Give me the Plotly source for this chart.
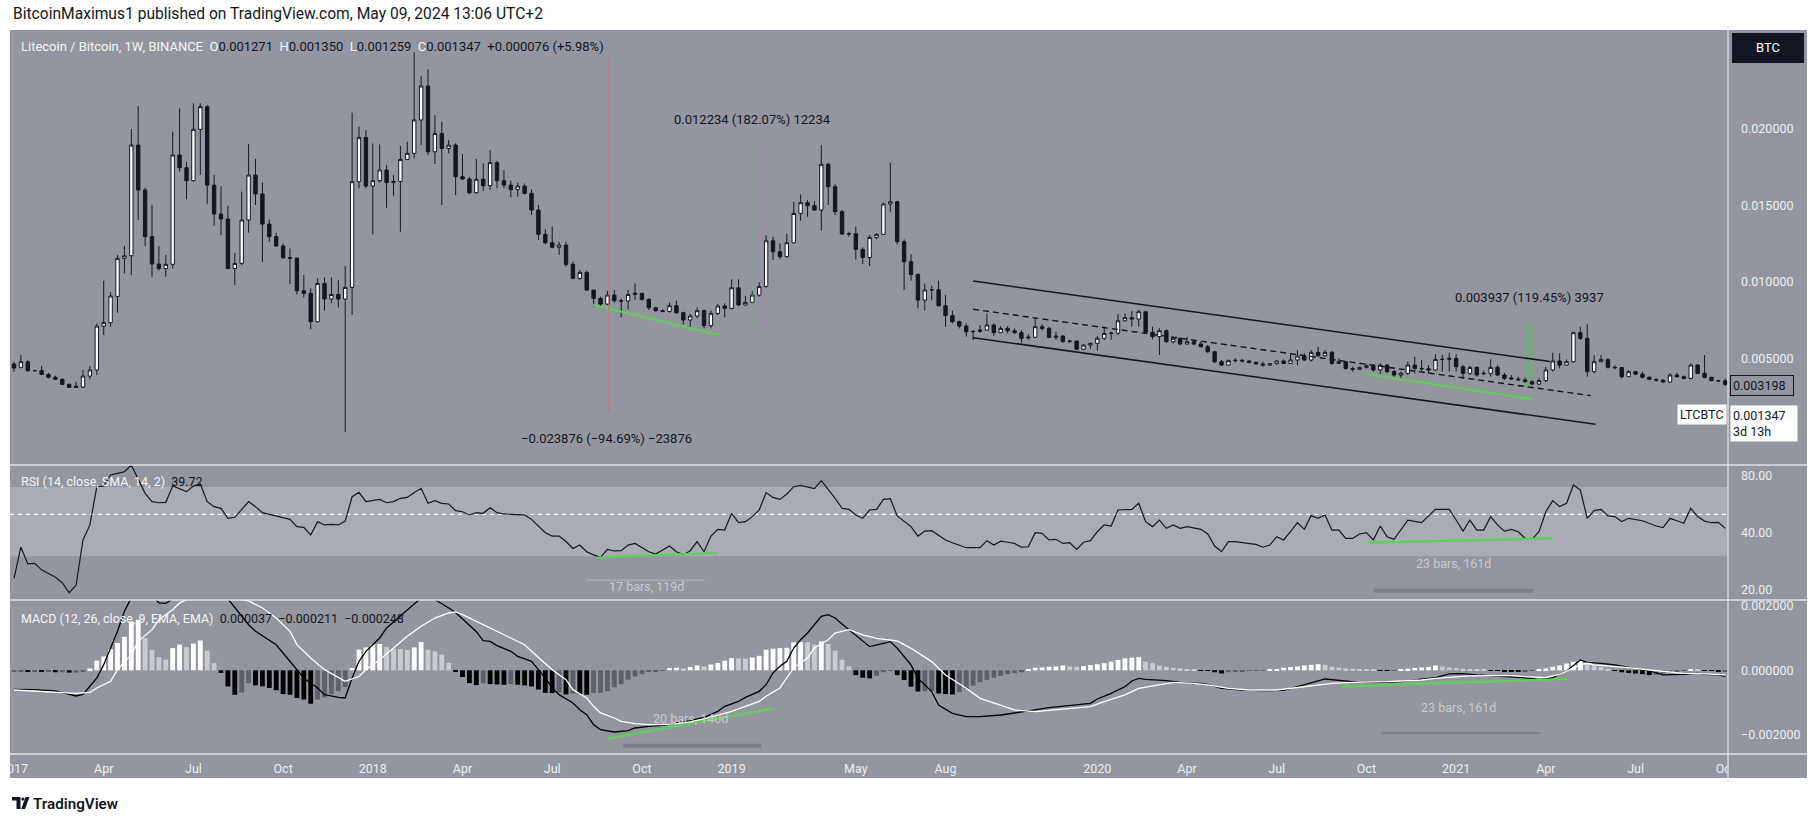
import math
import pandas as pd
import plotly.graph_objects as go

W, H = 1818, 824
def px(x): return x / W
def py(y): return 1 - y / H

# ---------------- data ----------------
first_week = "2017-01-02"
dates = pd.date_range(first_week, periods=249, freq="7D")

open_ = [
 0.00463,0.00441,0.00478,0.00419,0.00420,0.00395,0.00376,0.00363,0.00330,0.00318,
 0.00312,0.00384,0.00424,0.00711,0.00733,0.00905,0.01154,0.01171,0.01895,0.01601,
 0.01296,0.01117,0.01088,0.01115,0.01830,0.01747,0.01662,0.01998,0.02146,0.01633,
 0.01444,0.01411,0.01088,0.01121,0.01405,0.01699,0.01575,0.01378,0.01296,0.01235,
 0.01158,0.01156,0.00942,0.00925,0.00740,0.00990,0.00888,0.00918,0.00888,0.00964,
 0.01655,0.01945,0.01627,0.01662,0.01732,0.01649,0.01657,0.01801,0.01841,0.02059,
 0.02281,0.01851,0.01971,0.01873,0.01895,0.01688,0.01673,0.01583,0.01671,0.01629,
 0.01780,0.01662,0.01633,0.01605,0.01627,0.01579,0.01470,0.01311,0.01256,0.01226,
 0.01241,0.01115,0.01023,0.01062,0.00947,0.00892,0.00855,0.00914,0.00877,0.00875,
 0.00918,0.00925,0.00886,0.00831,0.00812,0.00807,0.00844,0.00799,0.00751,0.00777,
 0.00812,0.00714,0.00794,0.00842,0.00827,0.00962,0.00849,0.00866,0.00914,0.00969,
 0.01269,0.01197,0.01165,0.01256,0.01448,0.01518,0.01498,0.01470,0.01769,0.01623,
 0.01459,0.01313,0.01315,0.01213,0.01160,0.01291,0.01311,0.01509,0.01524,0.01263,
 0.01132,0.01049,0.00881,0.00947,0.00949,0.00844,0.00779,0.00740,0.00711,0.00674,
 0.00676,0.00685,0.00718,0.00668,0.00696,0.00681,0.00668,0.00640,0.00638,0.00707,
 0.00696,0.00637,0.00646,0.00609,0.00613,0.00559,0.00587,0.00598,0.00631,0.00663,
 0.00665,0.00746,0.00766,0.00757,0.00805,0.00670,0.00642,0.00681,0.00609,0.00631,
 0.00594,0.00609,0.00594,0.00576,0.00543,0.00478,0.00456,0.00485,0.00487,0.00483,
 0.00474,0.00463,0.00456,0.00465,0.00483,0.00467,0.00489,0.00515,0.00489,0.00539,
 0.00517,0.00539,0.00467,0.00478,0.00434,0.00428,0.00441,0.00452,0.00424,0.00456,
 0.00413,0.00391,0.00402,0.00456,0.00434,0.00432,0.00424,0.00493,0.00493,0.00500,
 0.00445,0.00402,0.00441,0.00399,0.00402,0.00441,0.00391,0.00372,0.00365,0.00360,
 0.00347,0.00332,0.00354,0.00424,0.00483,0.00456,0.00478,0.00668,0.00631,0.00413,
 0.00478,0.00493,0.00441,0.00439,0.00380,0.00413,0.00397,0.00376,0.00363,0.00358,
 0.00345,0.00391,0.00380,0.00369,0.00456,0.00402,0.00376,0.00354,0.00353]

high = [
 0.00478,0.00522,0.00489,0.00425,0.00450,0.00406,0.00386,0.00368,0.00336,0.00347,
 0.00424,0.00450,0.00729,0.01008,0.00932,0.01176,0.01235,0.02000,0.02150,0.01616,
 0.01503,0.01235,0.01176,0.01982,0.02135,0.01786,0.02168,0.02168,0.02157,0.01699,
 0.01627,0.01498,0.01191,0.01590,0.01902,0.01804,0.01649,0.01409,0.01322,0.01252,
 0.01219,0.01160,0.01045,0.00958,0.01023,0.01030,0.01030,0.01012,0.01104,0.02107,
 0.02015,0.01993,0.01906,0.01899,0.01764,0.01699,0.01889,0.01917,0.02503,0.02346,
 0.02390,0.02091,0.02048,0.01928,0.01906,0.01836,0.01688,0.01804,0.01775,0.01862,
 0.01792,0.01732,0.01662,0.01649,0.01644,0.01605,0.01503,0.01344,0.01361,0.01263,
 0.01263,0.01132,0.01078,0.01073,0.00947,0.00903,0.00942,0.00947,0.00892,0.00947,
 0.00990,0.00929,0.00892,0.00837,0.00819,0.00864,0.00877,0.00805,0.00790,0.00833,
 0.00820,0.00812,0.00855,0.00860,0.01017,0.01017,0.00908,0.00940,0.00997,0.01306,
 0.01296,0.01252,0.01317,0.01524,0.01572,0.01535,0.01529,0.01895,0.01780,0.01640,
 0.01470,0.01328,0.01361,0.01226,0.01306,0.01317,0.01520,0.01780,0.01531,0.01278,
 0.01182,0.01056,0.00990,0.00975,0.01008,0.00914,0.00812,0.00746,0.00729,0.00685,
 0.00718,0.00794,0.00729,0.00711,0.00711,0.00696,0.00685,0.00659,0.00766,0.00724,
 0.00707,0.00674,0.00650,0.00622,0.00615,0.00594,0.00602,0.00646,0.00707,0.00674,
 0.00790,0.00794,0.00809,0.00816,0.00810,0.00707,0.00696,0.00690,0.00637,0.00637,
 0.00642,0.00620,0.00609,0.00587,0.00550,0.00489,0.00493,0.00500,0.00496,0.00489,
 0.00478,0.00478,0.00469,0.00489,0.00493,0.00533,0.00554,0.00533,0.00554,0.00576,
 0.00554,0.00548,0.00500,0.00480,0.00445,0.00445,0.00463,0.00463,0.00467,0.00463,
 0.00424,0.00413,0.00478,0.00511,0.00489,0.00456,0.00528,0.00522,0.00537,0.00528,
 0.00456,0.00450,0.00445,0.00419,0.00493,0.00456,0.00406,0.00391,0.00380,0.00376,
 0.00358,0.00369,0.00445,0.00537,0.00533,0.00493,0.00674,0.00707,0.00724,0.00522,
 0.00522,0.00500,0.00456,0.00441,0.00424,0.00419,0.00413,0.00384,0.00369,0.00363,
 0.00402,0.00406,0.00388,0.00467,0.00463,0.00522,0.00380,0.00360,0.00369]

low = [
 0.00413,0.00434,0.00413,0.00414,0.00391,0.00369,0.00358,0.00325,0.00306,0.00306,
 0.00308,0.00363,0.00391,0.00652,0.00707,0.00799,0.01056,0.01045,0.01405,0.01235,
 0.01034,0.01073,0.01034,0.01088,0.01721,0.01540,0.01655,0.01699,0.01509,0.01368,
 0.01306,0.01082,0.00979,0.01110,0.01322,0.01503,0.01132,0.01263,0.01230,0.01150,
 0.00986,0.00918,0.00899,0.00690,0.00736,0.00812,0.00860,0.00833,0.00018,0.00783,
 0.01612,0.01612,0.01311,0.01649,0.01485,0.01564,0.01328,0.01797,0.01808,0.01895,
 0.01830,0.01771,0.01503,0.01841,0.01568,0.01666,0.01572,0.01579,0.01594,0.01601,
 0.01612,0.01612,0.01553,0.01557,0.01572,0.01437,0.01274,0.01245,0.01219,0.01176,
 0.01099,0.01017,0.01012,0.00940,0.00838,0.00842,0.00849,0.00864,0.00768,0.00820,
 0.00881,0.00877,0.00816,0.00805,0.00801,0.00799,0.00790,0.00722,0.00707,0.00761,
 0.00696,0.00696,0.00783,0.00768,0.00820,0.00842,0.00845,0.00860,0.00903,0.00962,
 0.01143,0.01147,0.01160,0.01252,0.01400,0.01426,0.01466,0.01335,0.01503,0.01437,
 0.01306,0.01296,0.01147,0.01117,0.01104,0.01278,0.01306,0.01459,0.01245,0.00947,
 0.01008,0.00827,0.00812,0.00881,0.00838,0.00707,0.00729,0.00696,0.00642,0.00620,
 0.00668,0.00681,0.00646,0.00665,0.00663,0.00659,0.00602,0.00620,0.00633,0.00681,
 0.00631,0.00620,0.00602,0.00602,0.00554,0.00554,0.00563,0.00550,0.00620,0.00620,
 0.00652,0.00740,0.00707,0.00707,0.00663,0.00624,0.00522,0.00602,0.00598,0.00585,
 0.00590,0.00587,0.00572,0.00537,0.00467,0.00450,0.00450,0.00472,0.00472,0.00467,
 0.00459,0.00445,0.00450,0.00459,0.00463,0.00463,0.00456,0.00485,0.00478,0.00511,
 0.00511,0.00456,0.00463,0.00424,0.00413,0.00424,0.00434,0.00413,0.00397,0.00402,
 0.00380,0.00369,0.00391,0.00402,0.00413,0.00402,0.00419,0.00413,0.00413,0.00413,
 0.00369,0.00391,0.00380,0.00391,0.00380,0.00384,0.00358,0.00358,0.00354,0.00341,
 0.00325,0.00325,0.00345,0.00413,0.00434,0.00454,0.00472,0.00620,0.00380,0.00402,
 0.00476,0.00434,0.00428,0.00369,0.00378,0.00391,0.00369,0.00358,0.00347,0.00341,
 0.00341,0.00376,0.00363,0.00363,0.00397,0.00369,0.00350,0.00348,0.00319]

close = [
 0.00437,0.00478,0.00419,0.00420,0.00395,0.00376,0.00363,0.00330,0.00310,0.00310,
 0.00384,0.00424,0.00711,0.00735,0.00908,0.01154,0.01171,0.01895,0.01601,0.01296,
 0.01117,0.01088,0.01115,0.01830,0.01747,0.01662,0.01998,0.02146,0.01633,0.01444,
 0.01411,0.01088,0.01121,0.01405,0.01699,0.01575,0.01378,0.01296,0.01235,0.01158,
 0.01156,0.00942,0.00925,0.00740,0.00990,0.00888,0.00918,0.00888,0.00964,0.01655,
 0.01945,0.01627,0.01662,0.01732,0.01649,0.01657,0.01801,0.01841,0.02059,0.02281,
 0.01851,0.01971,0.01873,0.01895,0.01688,0.01673,0.01583,0.01671,0.01629,0.01780,
 0.01662,0.01633,0.01605,0.01627,0.01579,0.01470,0.01311,0.01256,0.01226,0.01241,
 0.01115,0.01023,0.01062,0.00947,0.00892,0.00855,0.00914,0.00877,0.00875,0.00918,
 0.00925,0.00886,0.00831,0.00812,0.00807,0.00844,0.00799,0.00751,0.00777,0.00812,
 0.00714,0.00794,0.00842,0.00827,0.00962,0.00849,0.00866,0.00914,0.00969,0.01269,
 0.01197,0.01165,0.01256,0.01448,0.01518,0.01498,0.01470,0.01769,0.01623,0.01459,
 0.01313,0.01315,0.01213,0.01160,0.01291,0.01311,0.01509,0.01524,0.01263,0.01132,
 0.01049,0.00881,0.00947,0.00949,0.00844,0.00779,0.00740,0.00711,0.00674,0.00676,
 0.00685,0.00718,0.00668,0.00696,0.00681,0.00668,0.00631,0.00635,0.00707,0.00696,
 0.00637,0.00646,0.00609,0.00613,0.00559,0.00587,0.00598,0.00631,0.00663,0.00665,
 0.00746,0.00766,0.00757,0.00805,0.00670,0.00642,0.00681,0.00609,0.00631,0.00594,
 0.00609,0.00594,0.00576,0.00543,0.00478,0.00456,0.00485,0.00487,0.00483,0.00474,
 0.00463,0.00456,0.00465,0.00483,0.00467,0.00489,0.00515,0.00489,0.00539,0.00517,
 0.00539,0.00467,0.00478,0.00434,0.00428,0.00441,0.00452,0.00424,0.00456,0.00413,
 0.00391,0.00402,0.00456,0.00434,0.00432,0.00424,0.00493,0.00494,0.00500,0.00445,
 0.00402,0.00441,0.00391,0.00402,0.00441,0.00391,0.00369,0.00365,0.00360,0.00347,
 0.00332,0.00354,0.00424,0.00483,0.00456,0.00478,0.00668,0.00631,0.00413,0.00478,
 0.00493,0.00441,0.00439,0.00380,0.00413,0.00397,0.00376,0.00363,0.00358,0.00345,
 0.00391,0.00380,0.00369,0.00456,0.00402,0.00376,0.00354,0.00353,0.00330]

rsi_week = [0,1,2,3,4,6,7,8,9,10, 11,12,13,14,15,16,17,19,20,21, 22,23,25,26,27,28,29,30,31,32,
 34,35,36,38,39,40,41,42,43,44, 45,46,47,48,49,50,51,52,53,54, 55,56,57,58,59,60,61,62,63,64,
 65,66,67,68,69,70,71,72,74,75, 76,77,78,79,80,81,82,83,84,85, 86,87,88,89,90,91,92,93,95,96,
 97,98,99,100,101,102,103,104,105,106, 107,108,109,110,111,112,113,114,115,116,
 117,118,119,120,121,122,123,124,125,126, 127,128,129,130,131,132,133,134,135,136,
 137,138,140,141,142,143,144,145,146,147, 148,149,150,151,152,153,154,155,156,157,
 158,159,160,161,162,163,164,165,166,167, 168,169,170,172,173,174,175,176,177,178,
 180,181,182,183,184,185,186,187,188,189, 190,191,192,193,194,195,196,197,198,199,
 200,202,203,204,206,208,209,210,211,212, 213,214,215,216,217,218,219,220,221,222,
 223,224,225,226,227,228,229,230,231,232, 233,234,236,237,238,239,240,241,242,243,
 244,245,246,247,248]
rsi_value = [22.9,33.5,27.3,27.5,25.4,23.2,21.7,19.2,21.1,36.6, 44.0,70.2,70.8,81.0,82.6,84.3,91.5,64.7,58.5,57.7,
 58.0,70.8,66.1,70.8,72.5,58.5,55.0,53.9,47.7,48.3, 58.5,55.0,51.1,49.1,47.7,47.1,43.1,42.7,38.9,45.8,
 44.0,44.3,44.0,46.1,62.1,65.5,58.5,59.2,60.1,57.7, 58.5,60.9,61.6,65.3,68.8,57.3,59.2,57.3,56.8,52.4,
 51.7,49.7,51.1,50.7,54.3,51.1,50.3,50.1,49.7,47.1, 43.4,40.0,38.4,38.4,35.9,33.0,34.4,31.7,30.5,29.6,
 32.6,32.0,32.1,34.4,35.1,33.5,31.7,30.8,34.0,31.7, 30.5,32.1,35.9,31.7,38.4,41.7,41.3,50.7,45.2,45.8,
 48.7,52.8,65.3,61.6,60.1,64.2,70.2,71.4,70.2,68.5, 75.6,68.0,60.9,53.9,53.2,49.7,47.7,52.8,53.2,60.1,
 60.6,49.1,45.8,43.1,38.4,40.8,41.0,38.9,36.6,35.4, 34.4,33.3,33.3,36.3,34.4,36.1,35.6,35.1,33.5,33.7,
 40.0,39.7,36.6,36.9,35.1,35.4,32.6,35.6,36.3,40.5, 44.0,43.4,52.8,52.8,53.2,57.3,45.8,43.1,46.7,42.2,
 44.0,42.2,43.1,41.7,39.4,34.0,31.7,35.9,35.9,35.4, 34.7,33.5,34.4,38.1,36.6,40.5,45.2,41.7,49.3,47.7,
 49.7,41.3,41.3,37.3,37.3,39.4,40.0,36.6,43.4,38.1, 36.9,46.7,45.8,45.2,53.2,53.2,46.7,40.8,46.7,41.3,
 41.3,48.7,44.0,40.8,41.7,40.5,37.3,36.9,40.5,51.7, 59.2,55.0,57.3,71.7,67.4,47.7,52.4,53.2,49.1,48.7,
 45.8,47.7,46.3,44.9,43.4,42.6,47.7,46.3,44.9,53.9, 48.7,46.1,45.2,45.4,42.2]

macd_week = [0,3,6,9,10,12,13,14,15,16, 17,18,19,20,21,22,23,24,25,26, 27,28,29,30,31,34,35,38,40,41,
 42,44,45,47,48,49,50,51,53,54, 56,58,59,60,61,63,64,66,67,68, 69,70,72,73,75,76,77,78,79,81,
 82,83,84,85,87,89,90,92,94,96, 98,100,102,103,105,106,108,109,110,111, 112,113,114,115,116,117,118,119,120,121,
 123,124,126,127,128,129,130,131,133,134, 136,138,140,143,145,147,150,152,154,156,
 157,159,161,162,163,164,167,169,172,173, 175,178,181,184,186,188,189,190,193,195,
 198,201,203,206,208,210,212,215,218,220, 221,223,224,225,227,228,229,230,232,234,
 237,239,240,242,244,245,247,248]
macd_value = [-0.000591,-0.000601,-0.000643,-0.000798,-0.000747,-0.000240,0.000175,0.000694,0.001212,0.001834,
 0.002250,0.002500,0.002550,0.002350,0.002100,0.002080,0.002220,0.002450,0.002600,0.002800,
 0.002900,0.002850,0.002700,0.002450,0.002220,0.001418,0.001212,0.000796,0.000279,0.000020,
 -0.000239,-0.000550,-0.000758,-0.000841,-0.000861,-0.000239,0.000279,0.000590,0.001005,0.001316,
 0.001678,0.002041,0.002250,0.002350,0.002200,0.001937,0.001800,0.001400,0.001200,0.000921,
 0.000901,0.000766,0.000590,0.000434,0.000279,0.000020,-0.000239,-0.000550,-0.000758,-0.001017,
 -0.001224,-0.001380,-0.001691,-0.001846,-0.001919,-0.001877,-0.001794,-0.001742,-0.001711,-0.001639,
 -0.001566,-0.001462,-0.001276,-0.001120,-0.000965,-0.000841,-0.000654,-0.000447,-0.000084,0.000123,
 0.000279,0.000693,0.000952,0.001160,0.001418,0.001678,0.001730,0.001626,0.001439,0.001263,
 0.000892,0.000736,0.000840,0.000892,0.000684,0.000425,0.000166,-0.000249,-0.000664,-0.001078,
 -0.001338,-0.001441,-0.001441,-0.001390,-0.001338,-0.001265,-0.001161,-0.001110,-0.001078,-0.001027,
 -0.000892,-0.000716,-0.000508,-0.000332,-0.000249,-0.000280,-0.000321,-0.000373,-0.000404,-0.000436,
 -0.000560,-0.000612,-0.000633,-0.000622,-0.000508,-0.000404,-0.000332,-0.000270,-0.000332,-0.000373,
 -0.000373,-0.000353,-0.000301,-0.000228,-0.000114,-0.000104,-0.000145,-0.000187,-0.000207,-0.000249,
 -0.000301,-0.000228,-0.000124,-0.000021,0.000321,0.000249,0.000230,0.000218,0.000166,0.000083,
 -0.000021,-0.000145,-0.000145,-0.000124,-0.000093,-0.000124,-0.000145,-0.000187]

signal_week = [0,5,9,11,12,14,15,17,18,20, 21,23,24,25,26,27,28,29,30,31, 32,34,36,38,40,41,43,45,47,48,
 50,51,53,55,57,59,61,63,64,65, 66,68,70,72,74,75,77,78,80,81, 83,84,85,87,88,90,92,94,96,98,
 100,102,104,106,108,109,111,112,113,115, 116,118,119,121,123,125,128,130,133,135,
 138,140,143,145,148,151,153,156,158,161, 163,166,168,171,173,176,179,183,186,189,
 191,194,196,199,201,204,206,209,211,214, 217,219,222,224,227,228,229,232,234,237,
 240,242,245,247,248]
signal_value = [-0.000612,-0.000664,-0.000716,-0.000684,-0.000550,-0.000343,0.000020,0.000486,0.000901,0.001264,
 0.001575,0.001886,0.002093,0.002200,0.002320,0.002400,0.002450,0.002450,0.002400,0.002300,
 0.002220,0.002160,0.001938,0.001626,0.001212,0.000797,0.000383,0.000020,-0.000219,-0.000343,
 -0.000188,0.000020,0.000331,0.000694,0.001057,0.001368,0.001626,0.001782,0.001813,0.001730,
 0.001626,0.001419,0.001212,0.001025,0.000797,0.000590,0.000227,0.000020,-0.000291,-0.000602,
 -0.000861,-0.001120,-0.001327,-0.001483,-0.001586,-0.001659,-0.001690,-0.001690,-0.001659,-0.001607,
 -0.001514,-0.001400,-0.001275,-0.001120,-0.000965,-0.000809,-0.000550,-0.000239,0.000070,0.000382,
 0.000693,0.000952,0.001160,0.001263,0.001099,0.000996,0.000913,0.000684,0.000270,-0.000145,
 -0.000560,-0.000871,-0.001078,-0.001234,-0.001286,-0.001234,-0.001182,-0.001130,-0.000975,-0.000767,
 -0.000560,-0.000436,-0.000373,-0.000404,-0.000456,-0.000560,-0.000612,-0.000612,-0.000539,-0.000456,
 -0.000404,-0.000373,-0.000373,-0.000353,-0.000332,-0.000301,-0.000249,-0.000197,-0.000176,-0.000166,
 -0.000166,-0.000197,-0.000228,-0.000124,0.000166,0.000218,0.000166,0.000114,0.000083,0.000010,
 -0.000062,-0.000093,-0.000114,-0.000124,-0.000145]

hist_value = [
 -0.00004,-0.00004,-0.00005,-0.00004,-0.00005,-0.00005,-0.00006,-0.00006,-0.00007,-0.00007,
 -0.00003,0.00006,0.00030,0.00043,0.00066,0.00085,0.00104,0.00152,0.00157,0.00100,
 0.00064,0.00041,0.00033,0.00069,0.00080,0.00072,0.00083,0.00093,0.00061,0.00022,
 -0.00008,-0.00050,-0.00076,-0.00069,-0.00040,-0.00047,-0.00050,-0.00055,-0.00062,-0.00074,
 -0.00076,-0.00086,-0.00091,-0.00104,-0.00091,-0.00084,-0.00074,-0.00065,-0.00052,0.00007,
 0.00064,0.00071,0.00080,0.00082,0.00072,0.00067,0.00066,0.00064,0.00071,0.00088,
 0.00064,0.00059,0.00049,0.00023,-0.00003,-0.00021,-0.00040,-0.00046,-0.00040,-0.00043,
 -0.00044,-0.00045,-0.00043,-0.00045,-0.00047,-0.00050,-0.00060,-0.00070,-0.00071,-0.00069,
 -0.00075,-0.00072,-0.00074,-0.00076,-0.00071,-0.00070,-0.00065,-0.00053,-0.00043,-0.00029,
 -0.00019,-0.00012,-0.00005,-0.00003,-0.00001,0.00007,0.00008,0.00006,0.00010,0.00015,
 0.00012,0.00018,0.00023,0.00030,0.00038,0.00037,0.00036,0.00040,0.00045,0.00064,
 0.00067,0.00069,0.00070,0.00087,0.00088,0.00087,0.00080,0.00090,0.00082,0.00061,
 0.00033,0.00012,-0.00015,-0.00023,-0.00025,-0.00017,-0.00006,-0.00002,-0.00015,-0.00030,
 -0.00051,-0.00066,-0.00065,-0.00064,-0.00072,-0.00074,-0.00075,-0.00068,-0.00058,-0.00048,
 -0.00037,-0.00030,-0.00023,-0.00017,-0.00012,-0.00009,-0.00006,0.00004,0.00008,0.00009,
 0.00011,0.00012,0.00015,0.00012,0.00011,0.00013,0.00016,0.00019,0.00022,0.00027,
 0.00032,0.00037,0.00039,0.00041,0.00027,0.00022,0.00015,0.00011,0.00008,0.00006,
 0.00004,0.00002,-0.00001,-0.00002,-0.00006,-0.00010,-0.00006,-0.00004,-0.00003,-0.00002,
 -0.00001,-0.00001,0.00001,0.00003,0.00008,0.00010,0.00012,0.00015,0.00017,0.00019,
 0.00017,0.00011,0.00008,0.00006,0.00005,0.00004,0.00002,0.00001,-0.00001,-0.00002,
 -0.00001,0.00002,0.00005,0.00007,0.00009,0.00011,0.00015,0.00012,0.00009,0.00007,
 0.00005,0.00004,0.00002,0.00001,-0.00001,-0.00002,-0.00003,-0.00004,-0.00005,-0.00003,
 -0.00001,0.00001,0.00006,0.00011,0.00015,0.00021,0.00027,0.00032,0.00022,0.00015,
 0.00010,0.00005,-0.00002,-0.00006,-0.00008,-0.00010,-0.00012,-0.00015,-0.00014,-0.00010,
 -0.00007,-0.00004,-0.00002,0.00003,0.00001,-0.00001,-0.00002,-0.00003,-0.00003]

for arr in (open_, high, low, close, hist_value):
    assert len(arr) == len(dates), len(arr)
assert len(rsi_week) == len(rsi_value)
assert len(macd_week) == len(macd_value)
assert len(signal_week) == len(signal_value)

tick_dates = ["2017-01-02","2017-04-03","2017-07-03","2017-10-02","2018-01-01","2018-04-02",
              "2018-07-02","2018-10-01","2018-12-31","2019-05-06","2019-08-05","2020-01-06",
              "2020-04-06","2020-07-06","2020-10-05","2021-01-04","2021-04-05","2021-07-05","2021-10-04"]
tick_text = ["2017","Apr","Jul","Oct","2018","Apr","Jul","Oct","2019","May","Aug","2020",
             "Apr","Jul","Oct","2021","Apr","Jul","Oct"]

# drawings (week index, value)
channel_upper = ([139, 222.6], [0.01006, 0.00479])
channel_lower = ([139, 229.2], [0.00635, 0.00069])
channel_mid = ([139, 228.5], [0.00821, 0.00256])
price_green1 = ([83.9, 102.1], [0.00849, 0.00653])
price_green2 = ([196.1, 220.0], [0.00396, 0.00233])
rsi_green1 = ([84.5, 102.0], [29.5, 31.3])
rsi_green2 = ([196.3, 223.0], [35.4, 37.3])
macd_green1 = ([86.1, 110.05], [-0.002126, -0.001192])
macd_green2 = ([192.4, 225.1], [-0.000508, -0.000270])

# ---------------- style ----------------
FONT = "Roboto"
DARK = "#131722"
BG = "#93969e"
BAND = "#a9acb4"
SEP = "#dfe1e6"
AXT = "#eceef2"
MEAS = "#c9cbd1"
GREEN = "#5ccf5c"

def wk(i):
    return pd.Timestamp(first_week) + pd.Timedelta(days=7 * i)

def wks(lst):
    return [wk(i) for i in lst]

x_left = wk(-0.58)
x_right = wk(248.4)

K = 0.005 / 76.45
ZERO_Y = 434.8
price_range = [(ZERO_Y - 465) * K, (ZERO_Y - 30) * K]
def rsi_log(y): return math.log10(80) - (y - 476) / 188.4
rsi_range = [rsi_log(600), rsi_log(465)]
MK = 3.11e-5
macd_range = [(670.3 - 754) * MK, (670.3 - 600) * MK]

fig = go.Figure()

fig.add_trace(go.Candlestick(
    x=dates, open=open_, high=high, low=low, close=close,
    increasing=dict(line=dict(color=DARK, width=1), fillcolor="#ffffff"),
    decreasing=dict(line=dict(color=DARK, width=1), fillcolor=DARK),
    whiskerwidth=0, xaxis="x", yaxis="y"))

def seg(xy, axes, color, width=1.5, dash="solid"):
    fig.add_trace(go.Scatter(x=wks(xy[0]), y=xy[1], mode="lines",
                             line=dict(color=color, width=width, dash=dash),
                             xaxis=axes[0], yaxis=axes[1]))

seg(channel_upper, ("x", "y"), DARK, 1.6)
seg(channel_lower, ("x", "y"), DARK, 1.6)
seg(channel_mid, ("x", "y"), DARK, 1.4, "6px,4px")
seg(price_green1, ("x", "y"), GREEN, 2.2)
seg(price_green2, ("x", "y"), GREEN, 2.2)
seg(([86.2, 86.2], [0.00149, 0.02464]), ("x", "y"), "rgba(230,90,100,0.55)", 1)
seg(([107.1, 107.1], [0.00707, 0.01895]), ("x", "y"), "rgba(90,190,90,0.45)", 1)

# RSI
fig.add_trace(go.Scatter(x=dates[rsi_week], y=rsi_value, mode="lines",
                         line=dict(color=DARK, width=1.2), xaxis="x2", yaxis="y2"))
seg(rsi_green1, ("x2", "y2"), GREEN, 2.2)
seg(rsi_green2, ("x2", "y2"), GREEN, 2.2)
seg(([83.0, 100.1], [22.4, 22.4]), ("x2", "y2"), "#b4b7be", 1)
seg(([197.1, 220.2], [19.7, 19.7]), ("x2", "y2"), "#7d808a", 4)

# MACD
hist_colors = []
for k, v in enumerate(hist_value):
    prev = hist_value[k - 1] if k > 0 else v
    if v >= 0:
        hist_colors.append("#ffffff" if v >= prev else "#c9cbd1")
    else:
        hist_colors.append("#000000" if v < prev else "#5d6069")
fig.add_trace(go.Bar(x=dates, y=hist_value, marker=dict(color=hist_colors, line=dict(width=0)),
                     xaxis="x3", yaxis="y3"))
fig.add_trace(go.Scatter(x=dates[macd_week], y=macd_value, mode="lines",
                         line=dict(color="#000000", width=1.3), xaxis="x3", yaxis="y3"))
fig.add_trace(go.Scatter(x=dates[signal_week], y=signal_value, mode="lines",
                         line=dict(color="#ffffff", width=1.3), xaxis="x3", yaxis="y3"))
seg(macd_green1, ("x3", "y3"), GREEN, 2.2)
seg(macd_green2, ("x3", "y3"), GREEN, 2.2)
seg(([88.3, 108.3], [-0.002345, -0.002345]), ("x3", "y3"), "#7d808a", 4)
seg(([198.1, 221.2], [-0.00195, -0.00195]), ("x3", "y3"), "#7d808a", 2)

shapes = [
    dict(type="rect", xref="paper", yref="paper", x0=px(10), x1=px(1807), y0=py(778), y1=py(30),
         fillcolor=BG, line=dict(width=0), layer="below"),
    dict(type="rect", xref="x2 domain", yref="y2", x0=0, x1=1, y0=30, y1=70,
         fillcolor=BAND, line=dict(width=0), layer="below"),
    dict(type="line", xref="x2 domain", yref="y2", x0=0, x1=1, y0=50, y1=50,
         line=dict(color="#ffffff", width=1.2, dash="4px,4px"), layer="below"),
    dict(type="rect", xref="x", yref="y", x0=wk(219.0), x1=wk(220.3), y0=0.00306, y1=0.00718,
         fillcolor="rgba(90,190,90,0.40)", line=dict(width=0), layer="below"),
    dict(type="rect", xref="paper", yref="paper", x0=px(1728.5), x1=px(1807), y0=py(778), y1=py(754.5),
         fillcolor=BG, line=dict(width=0), layer="above"),
    dict(type="rect", xref="paper", yref="paper", x0=0, x1=px(10), y0=py(778), y1=py(754.5),
         fillcolor="#ffffff", line=dict(width=0), layer="above"),
]
for yy in (465, 600, 754):
    shapes.append(dict(type="line", xref="paper", yref="paper", x0=px(10), x1=px(1807),
                       y0=py(yy), y1=py(yy), line=dict(color=SEP, width=1.3), layer="above"))
shapes.append(dict(type="line", xref="paper", yref="paper", x0=px(1728), x1=px(1728),
                   y0=py(778), y1=py(30), line=dict(color=SEP, width=1.3), layer="above"))
shapes.append(dict(type="rect", xref="paper", yref="paper", x0=px(1732), x1=px(1804), y0=py(63), y1=py(33),
                   fillcolor=DARK, line=dict(width=0), layer="above"))
def ppath(pts):
    return "M " + " L ".join(f"{px(a):.6f},{py(b):.6f}" for a, b in pts) + " Z"
shapes.append(dict(type="path", xref="paper", yref="paper",
                   path=ppath([(12, 797), (20.5, 797), (20.5, 809), (16.5, 809), (16.5, 800.5), (12, 800.5)]),
                   fillcolor=DARK, line=dict(width=0)))
shapes.append(dict(type="circle", xref="paper", yref="paper", x0=px(21.3), x1=px(24.5), y0=py(800.6), y1=py(797.4),
                   fillcolor=DARK, line=dict(width=0)))
shapes.append(dict(type="path", xref="paper", yref="paper",
                   path=ppath([(25.6, 797), (29.5, 797), (25.0, 809), (21.2, 809)]),
                   fillcolor=DARK, line=dict(width=0)))

def ann(text, x, y, size=12.5, color=DARK, xanchor="left", yanchor="middle", xref="paper", yref="paper",
        weight="normal", **kw):
    d = dict(text=text, x=x, y=y, xref=xref, yref=yref, showarrow=False, xanchor=xanchor,
             yanchor=yanchor, font=dict(family=FONT, size=size, color=color, weight=weight))
    d.update(kw)
    return d

def dk(s):
    return f'<span style="color:{DARK}">{s}</span>'

NB = "\u00a0"
annotations = [
    ann("BitcoinMaximus1 published on TradingView.com, May 09, 2024 13:06 UTC+2", px(11), py(14), size=15.6),
    ann("Litecoin / Bitcoin, 1W, BINANCE" + NB * 2 + "O" + dk("0.001271") + NB * 2 + "H" + dk("0.001350")
        + NB * 2 + "L" + dk("0.001259") + NB * 2 + "C" + dk("0.001347") + NB * 2 + dk("+0.000076 (+5.98%)"),
        px(19), py(46.5), size=13, color="#f4f5f7"),
    ann("RSI (14, close, SMA, 14, 2)" + NB * 2 + dk("39.72"), px(19), py(481.5), size=12.5, color="#f4f5f7"),
    ann("MACD (12, 26, close, 9, EMA, EMA)" + NB * 2 + dk("0.000037") + NB * 2 + dk("\u22120.000211")
        + NB * 2 + dk("\u22120.000248"), px(19), py(618), size=12.5, color="#f4f5f7"),
    ann("0.012234 (182.07%) 12234", wk(106.96), 0.02059, xanchor="center", xref="x", yref="y", size=13),
    ann("\u22120.023876 (\u221294.69%) \u221223876", wk(85.9), -0.00021, xanchor="center", xref="x", yref="y", size=13),
    ann("0.003937 (119.45%) 3937", wk(219.6), 0.00895, xanchor="center", xref="x", yref="y", size=13),
    # RSI pane is a log axis: annotation y is given as log10 of the value
    ann("17 bars, 119d", wk(91.6), math.log10(20.7), xanchor="center", xref="x2", yref="y2", size=12.5, color=MEAS),
    ann("23 bars, 161d", wk(208.55), math.log10(27.5), xanchor="center", xref="x2", yref="y2", size=12.5, color=MEAS),
    ann("20 bars, 140d", wk(98.0), -0.001505, xanchor="center", xref="x3", yref="y3", size=12.5, color=MEAS),
    ann("23 bars, 161d", wk(209.4), -0.001163, xanchor="center", xref="x3", yref="y3", size=12.5, color=MEAS),
    ann("BTC", px(1768), py(48), xanchor="center", size=13, color="#ffffff"),
    ann("0.003198", px(1730), 0.003198, yref="y", size=12.5, bgcolor=BG, bordercolor=DARK,
        borderwidth=1, borderpad=2, width=58, align="left"),
    ann("0.001347<br>3d 13h", px(1729.5), py(404.5), yanchor="top", size=12.5, bgcolor="#ffffff",
        borderpad=2, width=62, align="left"),
    ann("LTCBTC", px(1726.5), 0.001347, xanchor="right", yref="y", size=12.5, bgcolor="#ffffff", borderpad=2),
    ann("TradingView", px(31), py(803.5), size=15.2, weight=600),
]

common_x = dict(type="date", range=[x_left, x_right], domain=[px(10), px(1728)], showgrid=False,
                zeroline=False, showline=False, ticks="", fixedrange=True, automargin=False)
common_y = dict(side="right", showgrid=False, zeroline=False, showline=False, ticks="",
                tickfont=dict(family=FONT, size=12.5, color=AXT), ticklabelstandoff=12,
                fixedrange=True, automargin=False)

fig.update_layout(
    width=W, height=H, margin=dict(l=0, r=0, t=0, b=0, autoexpand=False),
    paper_bgcolor="#ffffff", plot_bgcolor="rgba(0,0,0,0)",
    showlegend=False, hovermode=False, bargap=0.3,
    font=dict(family=FONT, size=12, color=AXT),
    xaxis=dict(common_x, anchor="y", showticklabels=False, rangeslider=dict(visible=False)),
    xaxis2=dict(common_x, anchor="y2", matches="x", showticklabels=False),
    xaxis3=dict(common_x, anchor="y3", matches="x", showticklabels=True,
                tickmode="array", tickvals=tick_dates, ticktext=tick_text, ticklabeloverflow="allow",
                tickfont=dict(family=FONT, size=12.5, color=AXT), ticklabelstandoff=5),
    yaxis=dict(common_y, domain=[py(465), py(30)], anchor="x", range=price_range,
               tickvals=[0.005, 0.010, 0.015, 0.020],
               ticktext=["0.005000", "0.010000", "0.015000", "0.020000"]),
    yaxis2=dict(common_y, domain=[py(600), py(465)], anchor="x2", type="log", range=rsi_range,
                tickvals=[20, 40, 80], ticktext=["20.00", "40.00", "80.00"]),
    yaxis3=dict(common_y, domain=[py(754), py(600)], anchor="x3", range=macd_range,
                tickvals=[-0.002, 0, 0.002], ticktext=["\u22120.002000", "0.000000", "0.002000"]),
    shapes=shapes, annotations=annotations,
)

# remove the browser's default page margin so the figure sits at (0, 0)
fig.write_html("out.html", config={"displayModeBar": False},
               post_script="document.body.style.margin='0px';document.body.style.overflow='hidden';")
